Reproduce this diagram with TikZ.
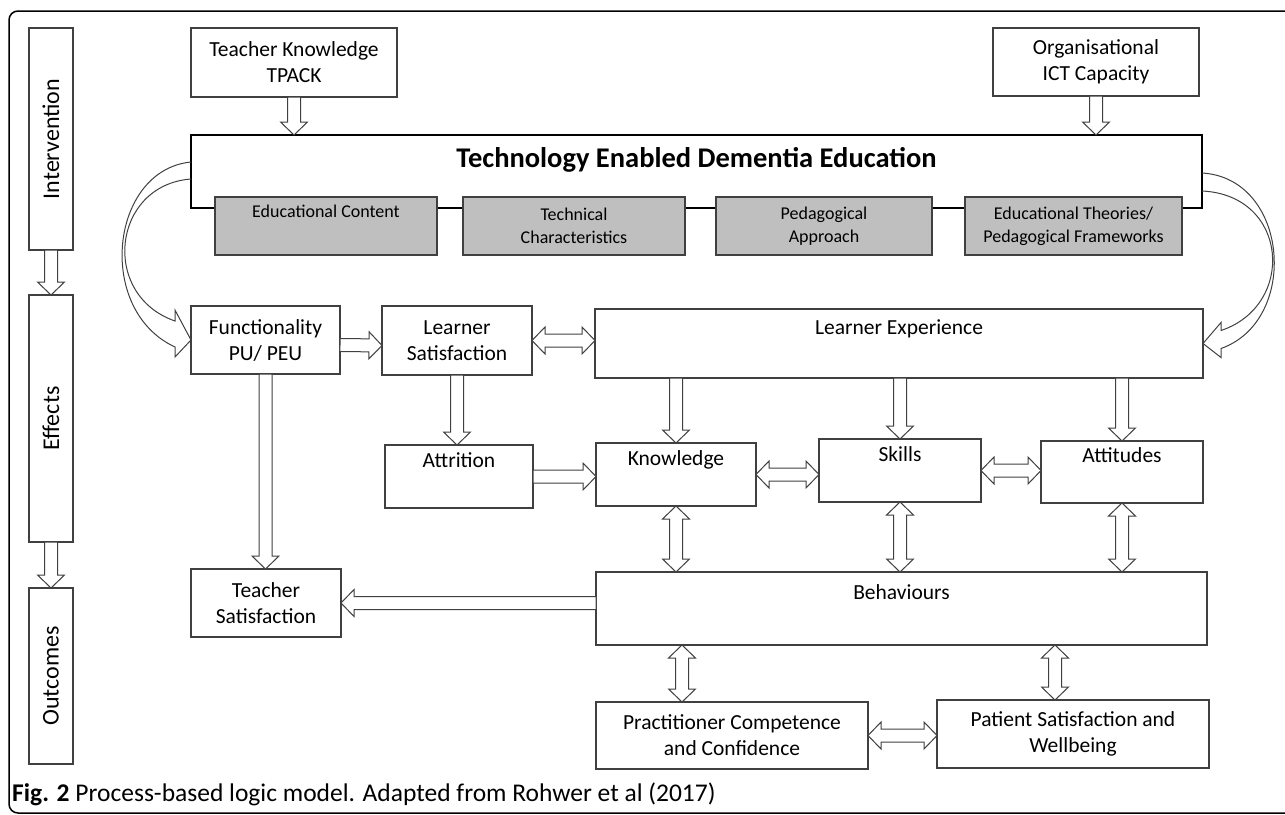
\documentclass[tikz,border=0pt]{standalone}
\usepackage{fontspec}
\usepackage{graphicx}
\setmainfont{Carlito}
\usetikzlibrary{calc}

\definecolor{linegray}{HTML}{404040}
\definecolor{boxgray}{HTML}{BFBFBF}

\begin{document}
\begin{tikzpicture}[x=1pt, y=-1pt,
  box/.style={draw=linegray, line width=1.2pt, fill=white, inner sep=0pt, outer sep=0pt,
    align=center, font=\fontsize{21.5}{26}\selectfont},
  greybox/.style={box, fill=boxgray, font=\fontsize{18}{23}\selectfont},
  side/.style={box, minimum width=44pt, font=\fontsize{24}{28}\selectfont},
  fat/.style={draw=linegray, line width=1pt, fill=white, to path={
    let \p1=(\tikztostart), \p2=(\tikztotarget), \p3=($(\p2)!13pt!(\p1)$) in
    ($(\p1)!6.5pt!90:(\p2)$) -- ($(\p3)!6.5pt!90:(\p2)$) -- ($(\p3)!13.5pt!90:(\p2)$) -- (\p2)
    -- ($(\p3)!13.5pt!-90:(\p2)$) -- ($(\p3)!6.5pt!-90:(\p2)$) -- ($(\p1)!6.5pt!-90:(\p2)$) -- cycle}},
  fatboth/.style={draw=linegray, line width=1pt, fill=white, to path={
    let \p1=(\tikztostart), \p2=(\tikztotarget), \p3=($(\p2)!13pt!(\p1)$), \p4=($(\p1)!13pt!(\p2)$) in
    (\p1) -- ($(\p4)!13.5pt!90:(\p2)$) -- ($(\p4)!6.5pt!90:(\p2)$) -- ($(\p3)!6.5pt!90:(\p2)$)
    -- ($(\p3)!13.5pt!90:(\p2)$) -- (\p2) -- ($(\p3)!13.5pt!-90:(\p2)$) -- ($(\p3)!6.5pt!-90:(\p2)$)
    -- ($(\p4)!6.5pt!-90:(\p2)$) -- ($(\p4)!13.5pt!-90:(\p2)$) -- cycle}},
  curvy/.style={draw=linegray, line width=1pt}
]
\useasboundingbox (0,0) rectangle (1285,814);
\clip (0,0) rectangle (1285,814);
\draw[line width=1.5pt, rounded corners=9pt] (9,11) rectangle (1320,813);

% stages
\node[side, minimum height=222pt] (intv) at (51,139) {\rotatebox{90}{Intervention}};
\node[side, minimum height=247pt] (eff) at (51,418.5) {\rotatebox{90}{Effects}};
\node[side, minimum height=176pt] (outc) at (51,676) {\rotatebox{90}{Outcomes}};

% intervention
\node[box, minimum width=206pt, minimum height=69pt] (tk) at (294,62.5) {Teacher Knowledge\\TPACK};
\node[box, minimum width=206pt, minimum height=68pt] (ict) at (1096,62) {Organisational\\ICT Capacity};
\node[box, draw=black, line width=2.5pt, minimum width=1011pt, minimum height=73pt] (tede) at (696.5,171.5) {};
\node[font=\bfseries\fontsize{28.5}{34}\selectfont] (title) at (696.5,160) {Technology Enabled Dementia Education};
\node[greybox, minimum width=222pt, minimum height=58pt] (edu) at (326,226) {Educational Content\\\strut};
\node[greybox, minimum width=222pt, minimum height=58pt] (tech) at (574,226) {Technical\\Characteristics};
\node[greybox, minimum width=216pt, minimum height=58pt] (peda) at (824,226) {Pedagogical\\Approach};
\node[greybox, minimum width=217pt, minimum height=58pt] (theo) at (1073.5,226) {Educational Theories/\\Pedagogical Frameworks};

% effects
\node[box, minimum width=149pt, minimum height=68pt] (func) at (265.5,340) {Functionality\\PU/ PEU};
\node[box, minimum width=150pt, minimum height=69pt] (lsat) at (457,340.5) {Learner\\Satisfaction};
\node[box, minimum width=608pt, minimum height=69pt] (lexp) at (899,343.5) {Learner Experience\\\strut};
\node[box, minimum width=148pt, minimum height=63pt] (attr) at (459,476.5) {Attrition\\\strut};
\node[box, minimum width=160pt, minimum height=63pt] (know) at (676,474.5) {Knowledge\\\strut};
\node[box, minimum width=162pt, minimum height=63pt] (skil) at (900,470.5) {Skills\\\strut};
\node[box, minimum width=162pt, minimum height=62pt] (atti) at (1122,472) {Attitudes\\\strut};

% outcomes
\node[box, minimum width=150pt, minimum height=68pt] (tsat) at (266,603) {Teacher\\Satisfaction};
\node[box, minimum width=611pt, minimum height=73pt] (beha) at (901.5,608.5) {Behaviours\\\strut};
\node[box, minimum width=272pt, minimum height=67pt] (prac) at (732,735.5) {Practitioner Competence\\and Confidence};
\node[box, minimum width=272pt, minimum height=68pt] (pati) at (1073,734) {Patient Satisfaction and\\Wellbeing};

\node[anchor=west, inner sep=0pt, font=\fontsize{25.5}{30}\selectfont] (cap) at (12,794)
  {\textbf{Fig. 2} Process-based logic model. Adapted from Rohwer et al (2017)};

% arrows
\draw[fat] (intv.south) to (eff.north);
\draw[fat] (eff.south) to (outc.north);
\draw[fat] (tk.south) to (tk.south |- tede.north);
\draw[fat] (ict.south) to (ict.south |- tede.north);
\draw[fat] ($(func.east)+(0,5)$) to ($(lsat.west)+(0,5)$);
\draw[fatboth] (lsat.east) to (lsat.east -| lexp.west);
\draw[fat] (func.south) to (func.south |- tsat.north);
\draw[fat] (lsat.south) to (lsat.south |- attr.north);
\draw[fat] (attr.east) to (attr.east -| know.west);
\draw[fatboth] (know.east) to (know.east -| skil.west);
\draw[fatboth] (skil.east) to (skil.east -| atti.west);
\foreach \k in {know, skil, atti}{
  \draw[fat] (\k.north |- lexp.south) to (\k.north);
  \draw[fatboth] (\k.south) to (\k.south |- beha.north);}
\draw[fat] (beha.west |- tsat.east) to (tsat.east);
\coordinate (bp) at ($(beha.south -| know.south)+(6,0)$);
\coordinate (bq) at ($(beha.south -| pati.north)+(-18,0)$);
\draw[fatboth] (bp) to (bp |- prac.north);
\draw[fatboth] (bq) to (bq |- pati.north);
\draw[fatboth] (prac.east) to (prac.east -| pati.west);

% curved arrows
\draw[curvy] ($(tede.north west)+(0,27)$) .. controls +(-81,8) and +(-80,-37) .. ($(func.west)+(-16,7)$)
  -- ($(func.west)+(-16,17)$) -- (func.west) -- ($(func.west)+(-16,-30)$) -- ($(func.west)+(-16,-19)$)
  .. controls +(-75,-26) and +(-79,6) .. ($(tede.north west)+(0,44)$);
\draw[curvy] ($(tede.north east)+(0,38)$) .. controls +(87,5) and +(79,-28) .. ($(lexp.east)+(18,5)$)
  -- ($(lexp.east)+(18,14)$) -- (lexp.east) -- ($(lexp.east)+(18,-21)$) -- ($(lexp.east)+(18,-13)$)
  .. controls +(75,-25) and +(87,4) .. ($(tede.north east)+(0,56)$);
\end{tikzpicture}
\end{document}
